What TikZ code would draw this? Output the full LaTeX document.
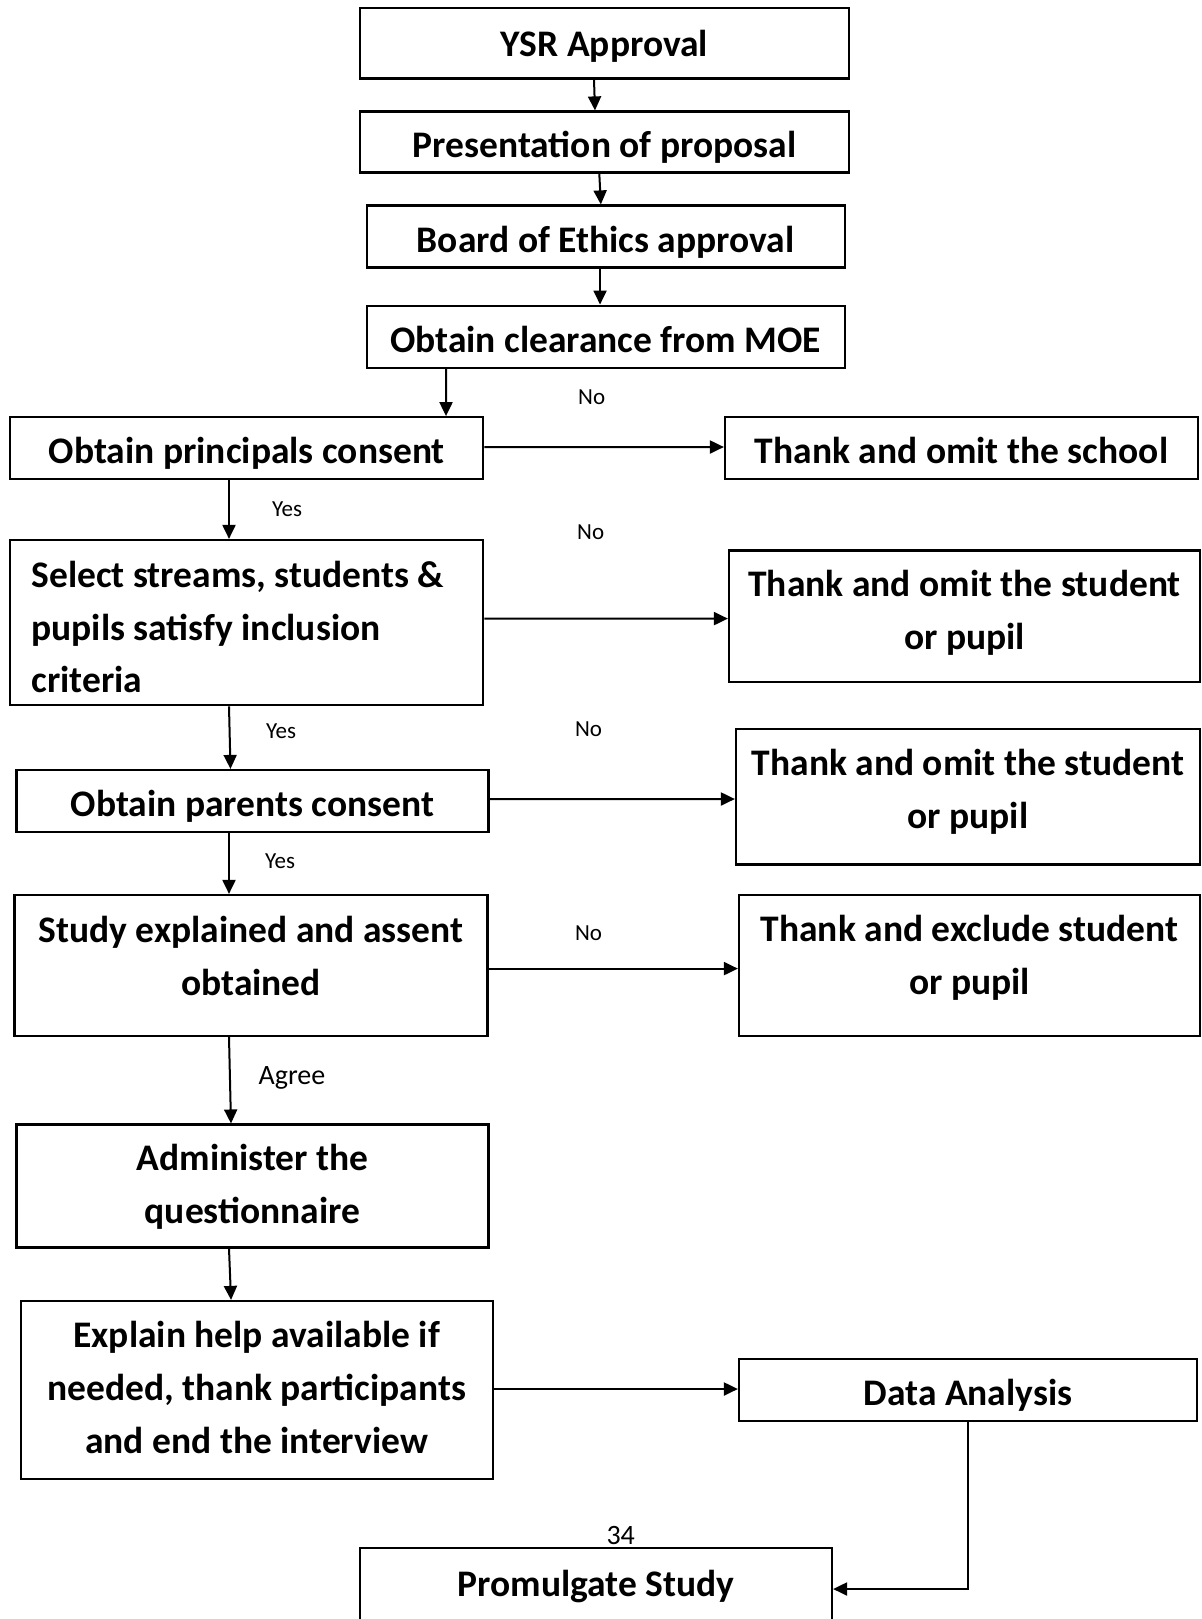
\documentclass[tikz,border=0pt]{standalone}
\usepackage{fontspec}
\setmainfont{Carlito}
\usetikzlibrary{arrows.meta}
\begin{document}
\begin{tikzpicture}[x=0.5pt,y=-0.5pt,
  box/.style={draw,line width=1.1pt,inner sep=0pt,text height=15.5pt,text depth=0pt,font=\bfseries\fontsize{18.75}{26.3}\selectfont},
  ebox/.style={draw,line width=1.1pt,inner sep=0pt},
  btxt/.style={inner sep=0pt,font=\bfseries\fontsize{18.75}{26.3}\selectfont,align=center},
  lbl/.style={inner sep=0pt,font=\fontsize{11.5}{13}\selectfont},
  big/.style={inner sep=0pt,font=\fontsize{14}{16}\selectfont},
  arr/.style={line width=1pt,-{Triangle[length=7pt,width=6.5pt]}}]
\useasboundingbox (0,0) rectangle (1201,1619);
\fill[white] (0,0) rectangle (1201,1619);
% boxes
\node[box,minimum width=244.5pt,minimum height=35.25pt,text height=13.5pt] (ysr) at (604.5,43.25) {YSR Approval};
\node[box,minimum width=244.5pt,minimum height=30.5pt] (pres) at (604.5,142) {Presentation of proposal};
\node[box,minimum width=239pt,minimum height=31pt] (board) at (605.65,236.5) {Board of Ethics approval};
\node[box,minimum width=239pt,minimum height=31pt] (moe) at (605.65,336.65) {Obtain clearance from MOE};
\node[box,minimum width=236.5pt,minimum height=31pt] (princ) at (246.8,448.2) {Obtain principals consent};
\node[box,minimum width=236.5pt,minimum height=31pt] (school) at (961.5,448) {Thank and omit the school};
\node[ebox,minimum width=236.5pt,minimum height=82.65pt] (select) at (246.8,622.65) {};
\node[btxt,align=left,anchor=west] (selectt) at (31,627) {Select streams, students \&\\pupils satisfy inclusion\\criteria};
\node[ebox,minimum width=235.5pt,minimum height=65.6pt] (omit1) at (964.5,616) {};
\node[btxt] (omit1t) at (964.5,613) {Thank and omit the student\\or pupil};
\node[box,minimum width=236pt,minimum height=31pt] (parents) at (252.5,801) {Obtain parents consent};
\node[ebox,minimum width=232pt,minimum height=67.7pt] (omit2) at (968,796.7) {};
\node[btxt] (omit2t) at (968,792) {Thank and omit the student\\or pupil};
\node[ebox,minimum width=236.45pt,minimum height=70.5pt] (study) at (251,965.5) {};
\node[btxt] (studyt) at (251,955.7) {Study explained and assent\\obtained};
\node[ebox,minimum width=230.5pt,minimum height=70.5pt] (excl) at (969.5,965.5) {};
\node[btxt] (exclt) at (969.5,957.7) {Thank and exclude student\\or pupil};
\node[ebox,minimum width=236pt,minimum height=61.45pt] (admin) at (252.5,1186) {};
\node[btxt] (admint) at (252.5,1187) {Administer the\\questionnaire};
\node[ebox,minimum width=236pt,minimum height=89pt] (explain) at (256.65,1390) {};
\node[btxt] (explaint) at (256.65,1387.5) {Explain help available if\\needed, thank participants\\and end the interview};
\node[box,minimum width=229pt,minimum height=31pt] (data) at (968,1390) {Data Analysis};
\node[ebox,minimum width=236pt,minimum height=41pt] (prom) at (596,1589) {};
\node[btxt] (promt) at (596,1586) {Promulgate Study};
% labels
\node[lbl] (no1) at (591.7,397.6) {No};
\node[lbl] (no2) at (590.7,531.8) {No};
\node[lbl] (no3) at (588.6,729) {No};
\node[lbl] (no4) at (588.6,933.5) {No};
\node[lbl] (yes1) at (287,509) {Yes};
\node[lbl] (yes2) at (281,731) {Yes};
\node[lbl] (yes3) at (280,861) {Yes};
\node[big] (agree) at (292,1078) {Agree};
\node[big] (page) at (620.7,1535.6) {34};
% connectors
\draw[arr] ([xshift=-5.25pt]ysr.south) -- ([xshift=-4.75pt]pres.north);
\draw[arr] ([xshift=-2.6pt]pres.south) -- ([xshift=-2.4pt]board.north);
\draw[arr] ([xshift=-2.8pt]board.south) -- ([xshift=-2.8pt]moe.north);
\draw[arr] ([xshift=-79.8pt]moe.south) -- ([xshift=99.6pt]princ.north);
\draw[arr] ([xshift=-8.9pt]princ.south) -- ([xshift=-8.9pt]select.north);
\draw[arr] ([xshift=-8.9pt]select.south) -- ([xshift=-11pt]parents.north);
\draw[arr] ([xshift=-11.75pt]parents.south) -- ([xshift=-11pt]study.north);
\draw[arr] ([xshift=-11pt]study.south) -- ([xshift=-10.75pt]admin.north);
\draw[arr] ([xshift=-11.75pt]admin.south) -- ([xshift=-12.8pt]explain.north);
\draw[arr] ([yshift=0.6pt]princ.east) -- ([yshift=0.5pt]school.west);
\draw[arr] ([yshift=2pt]select.east) -- ([yshift=-1.3pt]omit1.west);
\draw[arr] ([yshift=1pt]parents.east) -- ([yshift=-1.15pt]omit2.west);
\draw[arr] ([yshift=-1.55pt]study.east) -- ([yshift=-1.55pt]excl.west);
\draw[arr] ([yshift=0.5pt]explain.east) -- ([yshift=0.5pt]data.west);
\draw[arr] (data.south) |- (prom.east);
\end{tikzpicture}
\end{document}
